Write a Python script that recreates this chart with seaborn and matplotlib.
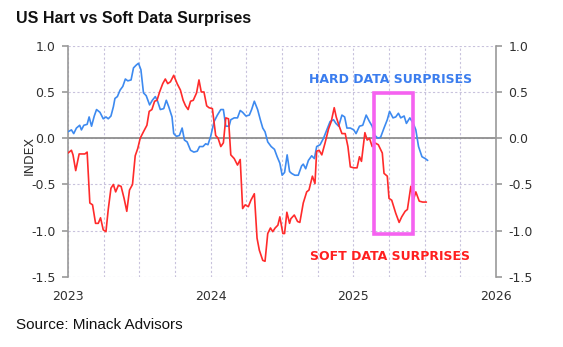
import numpy as np
import pandas as pd
import matplotlib
matplotlib.use("Agg")
import matplotlib.pyplot as plt
from matplotlib.patches import Rectangle
from matplotlib.ticker import MultipleLocator, FixedLocator, FormatStrFormatter
import seaborn as sns

BASE_YEAR = 2023
# ---- data (years since start of 2023, index value) ----
hard_t = [0.000, .024, .040, .059, .082, .094, .111, .134, .148, .165,
          .184, .200, .224, .247, .266, .282, .301, .318, .329, .346,
          .365, .384, .402, .419, .442, .459, .478, .494, .511, .529,
          .548, .572, .591, .612, .628, .647, .671, .689, .706, .729,
          .741, .760, .781, .800, .816, .835, .859, .882, .906, .922,
          .946, .965, .981, 1.000, 1.024, 1.047, 1.071, 1.089, 1.106, 1.129,
          1.141, 1.165, 1.188, 1.207, 1.224, 1.247, 1.271, 1.287, 1.306, 1.329,
          1.348, 1.365, 1.381, 1.400, 1.424, 1.447, 1.466, 1.485, 1.501, 1.518,
          1.536, 1.553,
          1.567, 1.590, 1.614, 1.637, 1.649, 1.666, 1.685, 1.708, 1.727, 1.743,
          1.767, 1.791, 1.814, 1.837,
          1.861, 1.878, 1.897, 1.920, 1.939, 1.955, 1.979, 2.003, 2.019, 2.043,
          2.066, 2.090, 2.113, 2.132, 2.151, 2.172, 2.191, 2.215, 2.238, 2.254,
          2.278, 2.297, 2.316, 2.332, 2.356, 2.372, 2.396, 2.420, 2.438, 2.457,
          2.481, 2.504, 2.521]
hard_v = [0.07, 0.09, 0.05, 0.11, 0.14, 0.09, 0.14, 0.15, 0.23, 0.13,
          0.24, 0.31, 0.28, 0.21, 0.23, 0.21, 0.24, 0.34, 0.43, 0.45,
          0.52, 0.56, 0.64, 0.62, 0.63, 0.76, 0.79, 0.81, 0.74, 0.49,
          0.46, 0.36, 0.41, 0.45, 0.40, 0.31, 0.32, 0.41, 0.34, 0.23,
          0.05, 0.02, 0.03, 0.11, -0.02, -0.04, -0.13, -0.15, -0.14, -0.09,
          -0.09, -0.06, -0.07, 0.02, 0.18, 0.25, 0.31, 0.31, 0.13, 0.13,
          0.20, 0.22, 0.22, 0.30, 0.28, 0.24, 0.25, 0.31, 0.40, 0.31,
          0.20, 0.11, 0.07, -0.04, -0.09, -0.12, -0.20, -0.27, -0.40, -0.37,
          -0.18, -0.36,
          -0.38, -0.40, -0.40, -0.30, -0.28, -0.33, -0.24, -0.19, -0.22, -0.09,
          -0.07, 0.00, 0.09, 0.18,
          0.20, 0.16, 0.13, 0.25, 0.23, 0.11, 0.11, 0.09, 0.05, 0.13,
          0.14, 0.25, 0.18, 0.13, 0.03, 0.00, 0.01, 0.11, 0.20, 0.29,
          0.22, 0.23, 0.27, 0.22, 0.24, 0.16, 0.22, 0.16, 0.09, -0.09,
          -0.20, -0.22, -0.24]

soft_t = [0.000, .024, .035, .054, .078, .101, .118, .134, .153, .172,
          .193, .212, .228, .247, .266, .282, .301, .318, .334, .353,
          .372, .393, .412, .431, .452, .471, .489, .506, .529, .553,
          .569, .588, .607, .624, .642, .664, .682, .699, .718, .741,
          .765, .788, .807, .824, .842, .859, .878, .901, .918, .934,
          .953, .972, .988, 1.012, 1.035, 1.052, 1.071, 1.089, 1.106, 1.125,
          1.141, 1.165, 1.188, 1.207, 1.224, 1.242, 1.264, 1.282, 1.306, 1.325,
          1.341, 1.365, 1.381, 1.400, 1.419, 1.435, 1.452, 1.471, 1.485, 1.506,
          1.518, 1.534, 1.553,
          1.562, 1.586, 1.609, 1.625, 1.649, 1.673, 1.689, 1.713, 1.731, 1.743,
          1.760, 1.779, 1.802, 1.826, 1.845, 1.866, 1.880, 1.901, 1.920, 1.943,
          1.962, 1.979, 2.003, 2.026, 2.043, 2.057, 2.081, 2.097, 2.113, 2.132,
          2.151, 2.175, 2.203, 2.215, 2.238, 2.250, 2.269, 2.297, 2.321, 2.339,
          2.363, 2.379, 2.403, 2.420, 2.438, 2.462, 2.486, 2.512]
soft_v = [-0.16, -0.13, -0.18, -0.35, -0.17, -0.17, -0.17, -0.15, -0.70, -0.72,
          -0.92, -0.92, -0.86, -0.99, -1.01, -0.77, -0.54, -0.50, -0.58, -0.51,
          -0.52, -0.65, -0.79, -0.56, -0.50, -0.19, -0.11, 0.00, 0.07, 0.14,
          0.29, 0.31, 0.40, 0.41, 0.50, 0.59, 0.64, 0.59, 0.61, 0.68,
          0.59, 0.52, 0.41, 0.35, 0.31, 0.40, 0.41, 0.49, 0.63, 0.50,
          0.50, 0.35, 0.33, 0.32, 0.03, 0.00, -0.09, -0.05, 0.22, 0.21,
          -0.18, -0.22, -0.29, -0.23, -0.76, -0.72, -0.74, -0.67, -0.60, -1.08,
          -1.21, -1.32, -1.33, -1.03, -0.97, -1.01, -0.97, -0.94, -0.85, -1.03,
          -1.03, -0.80, -0.92,
          -0.87, -0.83, -0.90, -0.91, -0.70, -0.58, -0.56, -0.41, -0.49, -0.14,
          -0.13, -0.18, -0.05, 0.10, 0.18, 0.33, 0.23, 0.13, 0.05, 0.05,
          -0.09, -0.31, -0.32, -0.32, -0.20, -0.25, 0.06, -0.02, 0.00, -0.09,
          -0.05, -0.07, -0.16, -0.38, -0.41, -0.65, -0.67, -0.81, -0.91, -0.85,
          -0.79, -0.77, -0.52, -0.67, -0.58, -0.68, -0.69, -0.69]

year_ticks = [2023, 2024, 2025, 2026]
y_ticks = [-1.5, -1.0, -0.5, 0.0, 0.5, 1.0]
title = "US Hart vs Soft Data Surprises"
source = "Source: Minack Advisors"
hard_label = "HARD DATA SURPRISES"
soft_label = "SOFT DATA SURPRISES"
# highlight box (years since 2023, index)
box_t = [2.144, 2.416]
box_v = [-1.03, 0.49]

# ---- styling ----
sns.set_style("white")
plt.rcParams["axes.unicode_minus"] = False
plt.rcParams["font.family"] = ["DejaVu Sans"]

BLUE = "#3D8AF0"
RED = "#FF2B2B"
TICK_COLOR = "#303030"
SPINE = "#9a9a9a"
GRID = "#C8C2DC"

df_hard = pd.DataFrame({"year": BASE_YEAR + np.array(hard_t), "value": hard_v})
df_soft = pd.DataFrame({"year": BASE_YEAR + np.array(soft_t), "value": soft_v})

fig = plt.figure(figsize=(5.63, 3.47), dpi=100)
ax = fig.add_axes([0.1208, 0.2017, 0.7602, 0.6666])

ax.set_xlim(year_ticks[0], year_ticks[-1])
ax.set_ylim(y_ticks[0], y_ticks[-1])

ax.xaxis.set_major_locator(FixedLocator(year_ticks))
ax.xaxis.set_minor_locator(MultipleLocator(0.25))
ax.set_xticklabels([str(y) for y in year_ticks])
ax.yaxis.set_major_locator(FixedLocator(y_ticks))
ax.yaxis.set_major_formatter(FormatStrFormatter("%.1f"))

ax.grid(True, which="both", axis="x", color=GRID, linestyle=(0, (2, 2)), linewidth=0.8)
ax.grid(True, which="major", axis="y", color=GRID, linestyle=(0, (2, 2)), linewidth=0.8)
ax.set_axisbelow(True)

ax.axhline(0, color="#8f8f8f", linewidth=1.3, zorder=1.5)

sns.lineplot(data=df_hard, x="year", y="value", ax=ax, color=BLUE,
             linewidth=1.2, estimator=None, sort=False, zorder=3)
sns.lineplot(data=df_soft, x="year", y="value", ax=ax, color=RED,
             linewidth=1.2, estimator=None, sort=False, zorder=3)

ax.add_patch(Rectangle((BASE_YEAR + box_t[0], box_v[0]),
                       box_t[1] - box_t[0], box_v[1] - box_v[0],
                       fill=False, edgecolor="#F562F0", linewidth=2.6, zorder=4))

ax.text(2025.259, 0.63, hard_label, color="#3B7DEE", fontsize=9,
        fontweight="bold", ha="center", va="center", zorder=5)
ax.text(2025.255, -1.28, soft_label, color="#FF1F1F", fontsize=9,
        fontweight="bold", ha="center", va="center", zorder=5)

for side in ["top", "bottom"]:
    ax.spines[side].set_visible(False)
for side in ["left", "right"]:
    ax.spines[side].set_visible(True)
    ax.spines[side].set_color(SPINE)
    ax.spines[side].set_linewidth(1.2)

ax.tick_params(axis="y", which="major", left=True, right=True, labelleft=True,
               labelright=True, length=4, width=1.2, color=SPINE,
               labelsize=9, labelcolor=TICK_COLOR, pad=5)
ax.tick_params(axis="x", which="both", length=0, labelsize=9,
               labelcolor=TICK_COLOR, pad=9)
for lbl in ax.get_yticklabels() + ax.get_xticklabels():
    lbl.set_fontweight("medium")

ax.set_xlabel("")
ax.set_ylabel("INDEX", fontsize=9, color=TICK_COLOR)
ax.yaxis.set_label_coords(-0.076, 0.527)

fig.text(16.5 / 563, 1 - 18 / 347, title, fontsize=11.5, fontweight="bold",
         family=["Liberation Sans", "DejaVu Sans"], ha="left", va="center",
         color="#111111")
fig.text(16 / 563, 1 - 325 / 347, source, fontsize=11,
         family=["Liberation Sans", "DejaVu Sans"], ha="left", va="center",
         color="#111111")

fig.savefig("out.png", dpi=100)
